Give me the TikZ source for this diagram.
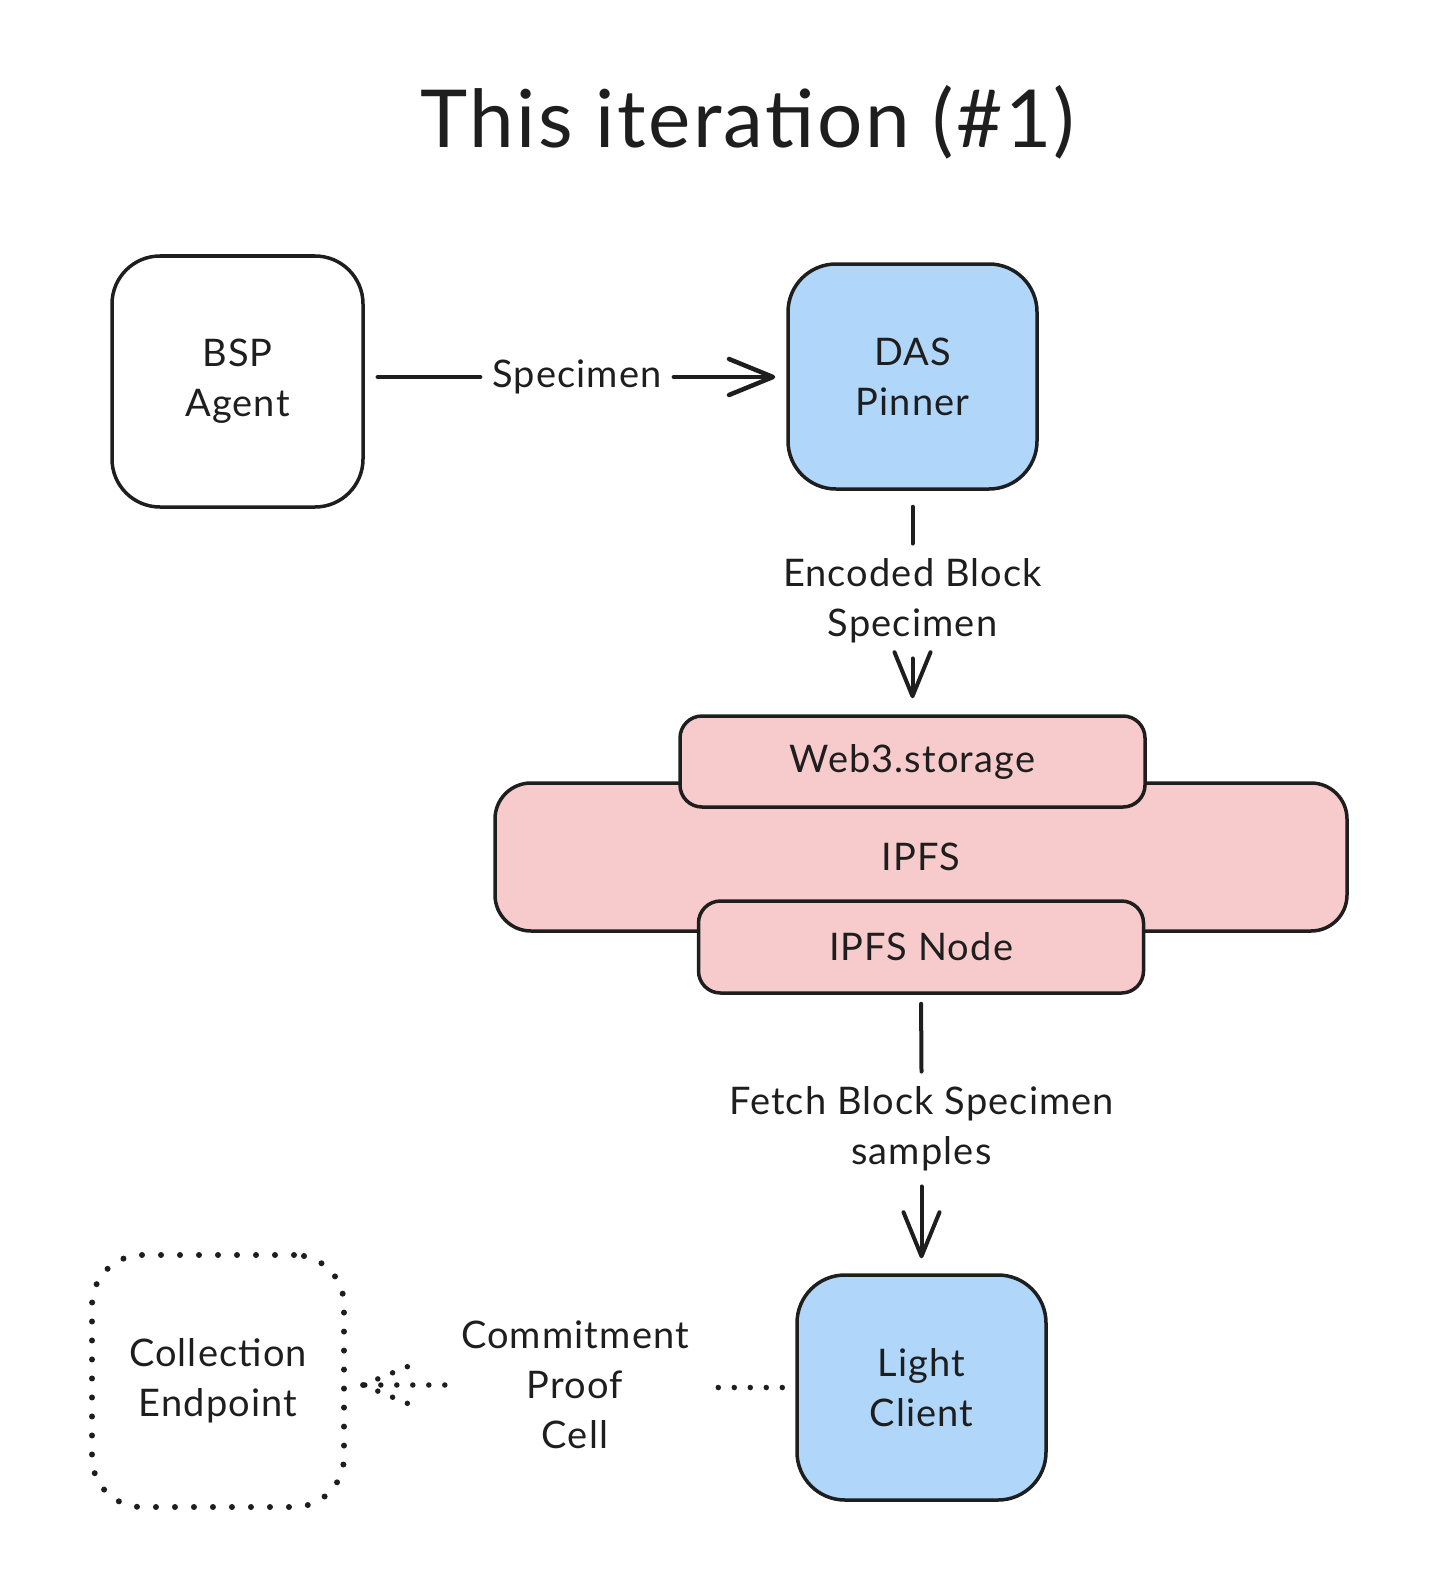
\documentclass[tikz,border=0pt]{standalone}
\usepackage{fontspec}
\setmainfont{Lato}[LetterSpace=3]
\usetikzlibrary{arrows.meta}
\definecolor{lblue}{RGB}{176,214,249}
\definecolor{lpink}{RGB}{247,203,203}
\definecolor{ink}{RGB}{30,30,30}
\begin{document}
\begin{tikzpicture}[x=1pt,y=-1pt,
  every node/.style={font=\fontsize{38}{50}\selectfont, text=ink, align=center},
  box/.style={draw=ink, line width=3.5pt, rectangle, rounded corners=#1, inner sep=0pt},
  box/.default=48pt,
  conn/.style={draw=ink, line width=4.5pt, line cap=round},
  tip/.style={-{Straight Barb[length=44pt,width=36pt,line cap=round,line join=round]}},
  lbl/.style={inner xsep=12pt, inner ysep=15pt},
  dots/.style={line width=5.5pt, line cap=round, dash pattern=on 0pt off 16pt},
  dotbox/.style={draw=ink, line width=6pt, line cap=round, dash pattern=on 0pt off 19pt, rectangle, rounded corners=50pt, inner sep=0pt}]
\useasboundingbox (0,0) rectangle (1452,1570);

% title
\node (title) at (748,122) {\fontsize{80}{90}\selectfont This iteration (\#1)};

% nodes
\node[box, minimum width=251pt, minimum height=251pt] (bsp) at (237.5,381.5) {BSP\\Agent};
\node[box, fill=lblue, minimum width=249pt, minimum height=225pt] (das) at (912.5,376.5) {DAS\\Pinner};

\node[box=36pt, fill=lpink, minimum width=852pt, minimum height=148pt] (ipfs) at (921,857) {IPFS};
\node[box=22pt, fill=lpink, minimum width=465pt, minimum height=91pt] (web3) at (912.5,761.5) {Web3.storage};
\node[box=22pt, fill=lpink, minimum width=445pt, minimum height=92pt] (ipfsnode) at (921,947) {IPFS Node};

\node[box, fill=lblue, minimum width=249pt, minimum height=225pt] (light) at (921.5,1387.5) {Light\\Client};
\node[dotbox, minimum width=252pt, minimum height=252pt] (coll) at (218,1381) {Collection\\Endpoint};

% connector labels
\node[lbl] (lbl1) at (577,377) {Specimen};
\node[lbl] (lbl2) at (912.5,601) {Encoded Block\\Specimen};
\node[lbl] (lbl3) at (921.5,1129) {Fetch Block Specimen\\samples};
\node[inner sep=0pt, minimum width=260pt] (lbl4) at (575,1385) {Commitment\\Proof\\Cell};

% connectors
\draw[conn, shorten <=13pt] (lbl1.west -| bsp.east) -- (lbl1.west);
\draw[conn, tip, shorten >=11pt] (lbl1.east) -- (lbl1.east -| das.west);

\draw[conn, line width=4pt, shorten <=16pt] (das.south) -- (lbl2.north);
\draw[conn, line width=4pt, tip, shorten >=16pt] (lbl2.south) -- (web3.north);

\draw[conn, line width=4pt, shorten <=9pt] (ipfsnode.south) -- (lbl3.north);
\draw[conn, line width=4pt, tip, shorten >=15pt] (lbl3.south) -- (light.north);

\draw[conn, dots, shorten <=13pt] (light.west) -- (lbl4.east |- light.west);
\path (coll.east |- lbl4.west) ++(16,0) coordinate (ctip);
\draw[conn, dots] (lbl4.west) -- (ctip);
\draw[conn, dots] (ctip) -- ++(46,-19);
\draw[conn, dots] (ctip) -- ++(46,19);
\end{tikzpicture}
\end{document}
